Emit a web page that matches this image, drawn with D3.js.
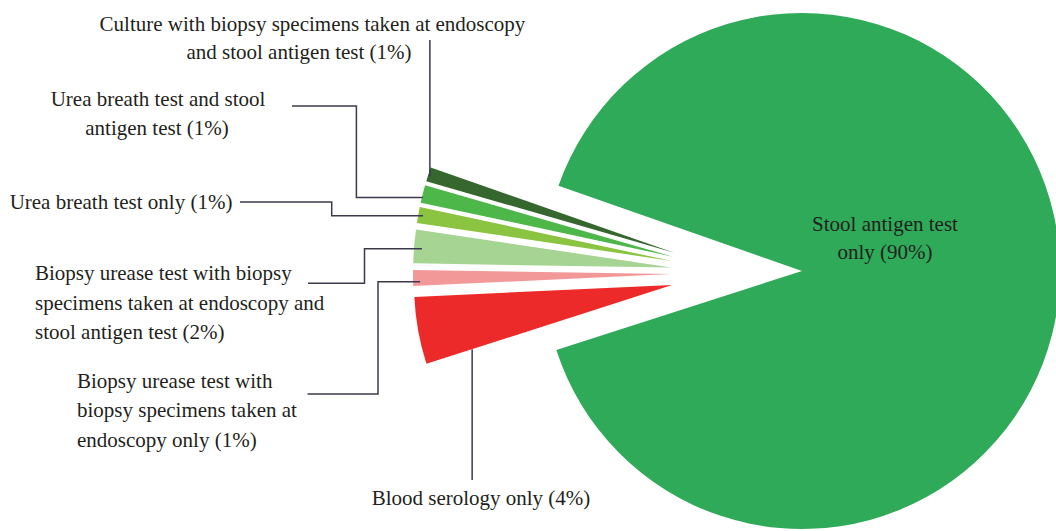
<!DOCTYPE html>
<html>
<head>
<meta charset="utf-8">
<script src="https://cdn.jsdelivr.net/npm/d3@7"></script>
<style>
  body { margin: 0; background: #ffffff; }
  .label { font-family: "Liberation Serif", serif; font-size: 21px; fill: #231f20; }
  .leader { fill: none; stroke: #3b3b4d; stroke-width: 1.5; }
</style>
</head>
<body>
<div id="chart"></div>
<script>
// share of patients by H. pylori test (%), in pie order
let categories = [
  "Stool antigen test only",
  "Blood serology only",
  "Biopsy urease test only",
  "Biopsy urease test and stool antigen test",
  "Urea breath test only",
  "Urea breath test and stool antigen test",
  "Culture and stool antigen test",
];
let values = [89.6, 4.2, 1.0, 2.1, 1.0, 1.1, 0.9];
let colors = ["#2eaa58", "#ed2a2a", "#f29898", "#a6d493", "#8bc441", "#4eb749", "#35672f"];

let labelLines = [
  ["Stool antigen test", "only (90%)"],
  ["Blood serology only (4%)"],
  ["Biopsy urease test with", "biopsy specimens taken at", "endoscopy only (1%)"],
  ["Biopsy urease test with biopsy", "specimens taken at endoscopy and", "stool antigen test (2%)"],
  ["Urea breath test only (1%)"],
  ["Urea breath test and stool", "antigen test (1%)"],
  ["Culture with biopsy specimens taken at endoscopy", "and stool antigen test (1%)"],
];

// svg dimensions
let svgWidth = 1056,
  svgHeight = 531;

// pie geometry
let cx = 802,
  cy = 271,
  radius = 258;
let startDeg = 289.3;
let groupShift = [-64, 2]; // small slices pulled out as a group
let explode = 67; // then each one along its own bisector

// label placement and leader routes (layout only)
let labelLayout = [
  { anchor: "middle", x: [885, 885], y: [231, 259], leader: null },
  { anchor: "middle", x: [481], y: [505], leader: { start: [473.5, 480], elbowX: null, frac: 0, dist: 210 } },
  { anchor: "start", x: [77, 77, 77], y: [388, 417, 447], leader: { start: [307.5, 394], elbowX: 378, frac: 0.25, dist: 251 } },
  { anchor: "start", x: [35, 35, 35], y: [280, 310, 339], leader: { start: [308, 283.3], elbowX: 364.5, frac: 0.45, dist: 250 } },
  { anchor: "middle", x: [121], y: [209], leader: { start: [240, 202], elbowX: 331.7, frac: 0.5, dist: 253 } },
  { anchor: "middle", x: [158, 157], y: [106, 135], leader: { start: [292, 106], elbowX: 356.4, frac: 0.31, dist: 257 } },
  { anchor: "middle", x: [312.5, 299], y: [31, 59], leader: { start: [429, 40], elbowX: null, frac: 0.41, dist: 256 } },
];

function toRad(deg) {
  return (deg * Math.PI) / 180;
}

// create svg
let svg = d3
  .select("#chart")
  .append("svg")
  .attr("width", svgWidth)
  .attr("height", svgHeight);

let pie = d3
  .pie()
  .sort(null)
  .startAngle(toRad(startDeg))
  .endAngle(toRad(startDeg + 360));

let arcs = pie(values);

let arc = d3.arc().innerRadius(0).outerRadius(radius);

// offset of each slice from the pie centre
function sliceOffset(d, i) {
  if (i === 0) return [0, 0];
  let mid = (d.startAngle + d.endAngle) / 2;
  return [
    groupShift[0] + explode * Math.sin(mid),
    groupShift[1] - explode * Math.cos(mid),
  ];
}

// a point inside an (exploded) slice, in page coords
function slicePoint(d, i, frac, dist) {
  let off = sliceOffset(d, i);
  let a = d.startAngle + frac * (d.endAngle - d.startAngle);
  return [cx + off[0] + dist * Math.sin(a), cy + off[1] - dist * Math.cos(a)];
}

// draw slices
svg
  .selectAll(".slice")
  .data(arcs)
  .enter()
  .append("path")
  .classed("slice", true)
  .attr("transform", (d, i) => {
    let off = sliceOffset(d, i);
    return `translate(${cx + off[0]}, ${cy + off[1]})`;
  })
  .attr("d", arc)
  .attr("fill", (d, i) => colors[i]);

// leader lines
let lineGen = d3.line();

arcs.forEach((d, i) => {
  let lay = labelLayout[i];
  if (!lay.leader) return;
  let ld = lay.leader;
  let end = slicePoint(d, i, ld.frac, ld.dist);
  let pts;
  if (ld.elbowX === null) {
    pts = [[end[0], ld.start[1]], end];
  } else {
    pts = [ld.start, [ld.elbowX, ld.start[1]], [ld.elbowX, end[1]], end];
  }
  svg.append("path").classed("leader", true).attr("d", lineGen(pts));
});

// labels
arcs.forEach((d, i) => {
  let lay = labelLayout[i];
  labelLines[i].forEach((line, j) => {
    svg
      .append("text")
      .classed("label", true)
      .attr("x", lay.x[j])
      .attr("y", lay.y[j])
      .attr("text-anchor", lay.anchor)
      .text(line);
  });
});
</script>
</body>
</html>
